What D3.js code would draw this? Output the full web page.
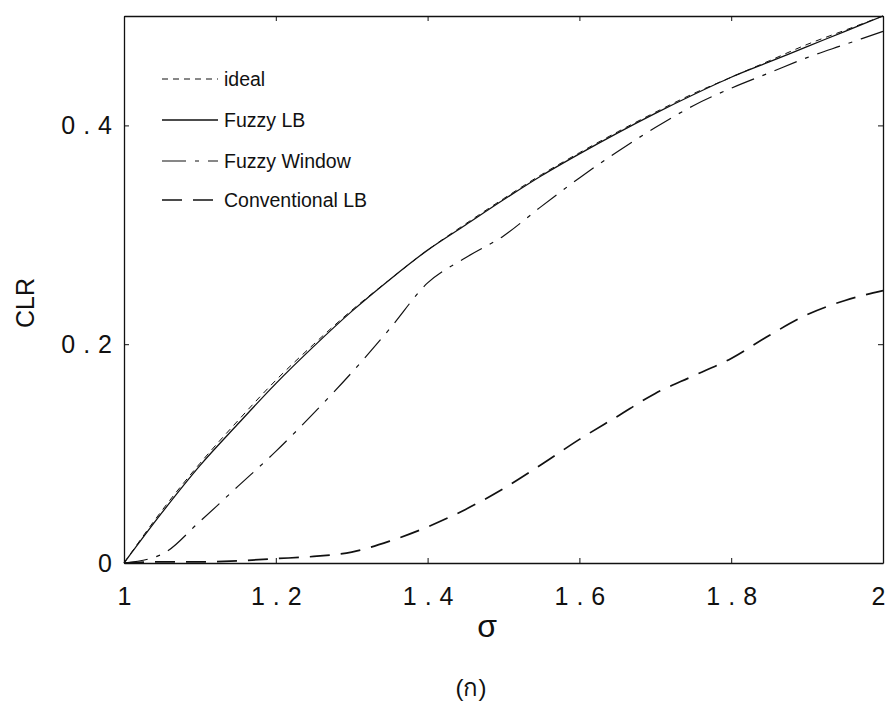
<!DOCTYPE html>
<html>
<head>
<meta charset="utf-8">
<script src="https://cdn.jsdelivr.net/npm/d3@7"></script>
<style>
  body { margin: 0; background: #fff; }
  svg { display: block; font-family: "Liberation Sans", Arial, sans-serif; }
</style>
</head>
<body>
<svg id="chart" width="888" height="709"></svg>
<script>
// values
const sigma = [1.0, 1.05, 1.1, 1.15, 1.2, 1.25, 1.3, 1.35, 1.4, 1.45, 1.5,
               1.55, 1.6, 1.65, 1.7, 1.75, 1.8, 1.85, 1.9, 1.95, 2.0];
const idealCLR = [0, 0.048, 0.091, 0.13, 0.167, 0.2, 0.231, 0.259, 0.286, 0.31, 0.333,
                  0.355, 0.375, 0.394, 0.412, 0.429, 0.444, 0.459, 0.474, 0.487, 0.5];
const fuzzyLB = [0, 0.046, 0.089, 0.127, 0.164, 0.198, 0.23, 0.259, 0.286, 0.309, 0.332,
                 0.354, 0.374, 0.393, 0.411, 0.428, 0.444, 0.458, 0.472, 0.486, 0.5];
const fuzzyWindow = [0, 0.008, 0.038, 0.07, 0.102, 0.137, 0.174, 0.214, 0.256, 0.279, 0.299,
                     0.326, 0.352, 0.376, 0.398, 0.418, 0.434, 0.448, 0.462, 0.474, 0.486];
const conventionalLB = [0, 0.001, 0.001, 0.002, 0.004, 0.006, 0.01, 0.02, 0.033, 0.049, 0.068,
                        0.09, 0.113, 0.134, 0.155, 0.171, 0.187, 0.208, 0.227, 0.24, 0.249];

const xTicks = [1, 1.2, 1.4, 1.6, 1.8, 2];
const yTicks = [0, 0.2, 0.4];
const legendNames = ["ideal", "Fuzzy LB", "Fuzzy Window", "Conventional LB"];

const series = [
  {name: legendNames[0], values: idealCLR, dash: "6,5", width: 1},
  {name: legendNames[1], values: fuzzyLB, dash: null, width: 1.3},
  {name: legendNames[2], values: fuzzyWindow, dash: "24,9,4,9", width: 1.2},
  {name: legendNames[3], values: conventionalLB, dash: "20,11", width: 1.7}
];

const margin = {top: 16, right: 5, bottom: 146, left: 124};
const width = 888, height = 709;
const svg = d3.select("#chart");

const x = d3.scaleLinear().domain([1, 2]).range([margin.left, width - margin.right]);
const y = d3.scaleLinear().domain([0, 0.5]).range([height - margin.bottom, margin.top]);

const fmt = d => d === 0 || d === 1 || d === 2 ? String(d) : d3.format(".1f")(d);
const spacing = 8;
const whole = d => d === 0 || d === 1 || d === 2;

// bottom axis
const bottom = svg.append("g")
  .attr("transform", `translate(0,${y(0)})`)
  .call(d3.axisBottom(x).tickValues(xTicks).tickFormat(fmt).tickSizeInner(-5).tickSizeOuter(0).tickPadding(24));
bottom.selectAll("text")
  .attr("font-size", 25).attr("fill", "#111")
  .style("letter-spacing", d => whole(d) ? null : spacing + "px")
  .attr("dx", d => whole(d) ? 0 : spacing / 2);
bottom.selectAll("text").filter(d => d === 2)
  .attr("text-anchor", "end").attr("dx", 2);

// top axis
svg.append("g")
  .attr("transform", `translate(0,${y(0.5)})`)
  .call(d3.axisTop(x).tickValues(xTicks).tickFormat("").tickSizeInner(-5).tickSizeOuter(0));

// left axis
const left = svg.append("g")
  .attr("transform", `translate(${x(1)},0)`)
  .call(d3.axisLeft(y).tickValues(yTicks).tickFormat(fmt).tickSizeInner(-5).tickSizeOuter(0).tickPadding(12));
left.selectAll("text")
  .attr("font-size", 25).attr("fill", "#111")
  .style("letter-spacing", d => whole(d) ? null : spacing + "px")
  .attr("dx", d => whole(d) ? 0 : spacing);

// right axis
svg.append("g")
  .attr("transform", `translate(${x(2)},0)`)
  .call(d3.axisRight(y).tickValues(yTicks).tickFormat("").tickSizeInner(-5).tickSizeOuter(0));

svg.selectAll(".domain").attr("stroke", "#111").attr("stroke-width", 1.3);
svg.selectAll(".tick line").attr("stroke", "#111");

// curves
const line = d3.line()
  .x((d, i) => x(sigma[i]))
  .y(d => y(d))
  .curve(d3.curveMonotoneX);

svg.append("g").selectAll("path")
  .data(series)
  .join("path")
  .attr("d", d => line(d.values))
  .attr("fill", "none")
  .attr("stroke", "#111")
  .attr("stroke-width", d => d.width)
  .attr("stroke-dasharray", d => d.dash);

// legend
const legendY = [79, 120, 161, 200];
const legend = svg.append("g").selectAll("g")
  .data(series)
  .join("g")
  .attr("transform", (d, i) => `translate(162,${legendY[i]})`);
legend.append("line")
  .attr("x1", 0).attr("x2", 56)
  .attr("stroke", "#111")
  .attr("stroke-width", d => d.width)
  .attr("stroke-dasharray", d => d.dash);
legend.append("text")
  .attr("x", 62).attr("y", 7)
  .attr("font-size", 19.5)
  .attr("fill", "#111")
  .text(d => d.name);

// axis titles
svg.append("text")
  .attr("transform", `translate(34,303) rotate(-90)`)
  .attr("text-anchor", "middle")
  .attr("font-size", 25)
  .attr("fill", "#111")
  .text("CLR");

svg.append("text")
  .attr("x", 487).attr("y", 637)
  .attr("text-anchor", "middle")
  .attr("font-size", 32)
  .attr("fill", "#111")
  .text("σ");

svg.append("text")
  .attr("x", 471).attr("y", 696)
  .attr("text-anchor", "middle")
  .attr("font-size", 24)
  .attr("fill", "#111")
  .text("(ก)");
</script>
</body>
</html>
